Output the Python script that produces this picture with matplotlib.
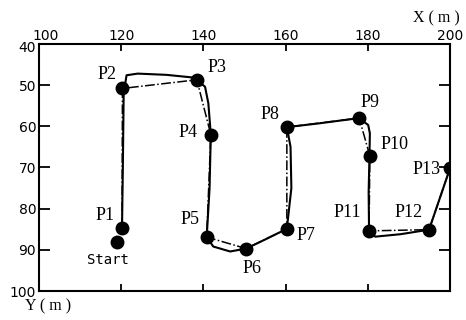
import numpy as np
import matplotlib.pyplot as plt
import matplotlib.transforms as mtransforms

# punkty pomiarowe (X, Y w metrach)
names = ['Start', 'P1', 'P2', 'P3', 'P4', 'P5', 'P6', 'P7', 'P8', 'P9', 'P10', 'P11', 'P12', 'P13']
pt_x = [119.0, 120.2, 120.3, 138.4, 141.8, 140.8, 150.4, 160.3, 160.3, 177.9, 180.5, 180.3, 194.9, 200.0]
pt_y = [88.1, 84.6, 50.8, 48.7, 62.0, 86.9, 89.7, 84.9, 60.2, 58.0, 67.2, 85.4, 85.1, 70.2]

# pozycje etykiet punktow
lab_x = [116.8, 116.0, 116.5, 143.3, 136.3, 136.7, 151.8, 165.0, 156.2, 180.5, 186.4, 174.9, 189.8, 194.4]
lab_y = [92.4, 81.6, 47.5, 45.8, 61.4, 82.7, 94.6, 86.6, 57.2, 54.3, 64.5, 81.0, 81.0, 70.6]

# rzeczywista trajektoria (linia ciagla)
path_x = [120.2, 120.4, 120.6, 121.3, 124.0, 131.0, 137.0, 138.4, 140.4, 141.2, 141.8, 141.5, 140.8,
          142.4, 146.5, 150.4, 155.0, 160.3, 161.4, 161.2, 160.3, 168.0, 177.9, 180.1, 180.5, 180.4,
          180.2, 180.3, 181.8, 188.0, 194.9, 200.0]
path_y = [84.6, 70.0, 52.0, 47.6, 47.2, 47.5, 48.1, 48.7, 50.4, 54.4, 62.0, 75.0, 86.9,
          89.2, 90.4, 89.7, 87.5, 84.9, 75.0, 65.0, 60.2, 59.3, 58.0, 59.7, 61.7, 67.2,
          76.0, 85.4, 86.8, 86.2, 85.1, 70.2]

xticks = [100, 120, 140, 160, 180, 200]
yticks = [40, 50, 60, 70, 80, 90, 100]

fig = plt.figure(figsize=(4.66, 3.2), dpi=100)
ax = fig.add_axes([0.0837, 0.0906, 0.882, 0.772])

ax.plot(path_x, path_y, color='black', lw=1.5, solid_capstyle='round', zorder=2)
ax.plot(pt_x[1:], pt_y[1:], color='black', lw=1.1, linestyle='-.', zorder=2)
ax.plot(pt_x, pt_y, 'o', color='black', markersize=9, linestyle='none', zorder=3)

for n, lx, ly in zip(names, lab_x, lab_y):
    if n == 'Start':
        ax.text(lx, ly, n, fontsize=10, family='DejaVu Sans Mono', ha='center', va='center')
    else:
        ax.text(lx, ly, n, fontsize=13, family='Liberation Serif', ha='center', va='center')

ax.set_xlim(100, 200)
ax.set_ylim(100, 40)
ax.set_xticks(xticks)
ax.set_yticks(yticks)
ax.xaxis.tick_top()
ax.tick_params(axis='x', top=True, bottom=True, labeltop=True, labelbottom=False,
               direction='in', length=5, width=1.3, labelsize=10, pad=1)
ax.tick_params(axis='y', left=True, right=True, direction='in', length=8, width=1.3,
               labelsize=10, pad=2)
for s in ax.spines.values():
    s.set_linewidth(1.5)

# przesuniecie etykiet w lewym gornym rogu, zeby sie nie nakladaly
fig.canvas.draw()
lbl100 = ax.get_xticklabels()[0]
lbl100.set_transform(lbl100.get_transform() + mtransforms.ScaledTranslation(7 / 100, 0, fig.dpi_scale_trans))
lbl40 = ax.get_yticklabels()[0]
lbl40.set_transform(lbl40.get_transform() + mtransforms.ScaledTranslation(0, -3 / 100, fig.dpi_scale_trans))

fig.text(436 / 466, 1 - 18 / 320, 'X ( m )', fontsize=11.5, family='Liberation Serif',
         ha='center', va='center')
fig.text(48 / 466, 1 - 306 / 320, 'Y ( m )', fontsize=11.5, family='Liberation Serif',
         ha='center', va='center')

fig.savefig('out.png', dpi=100)
